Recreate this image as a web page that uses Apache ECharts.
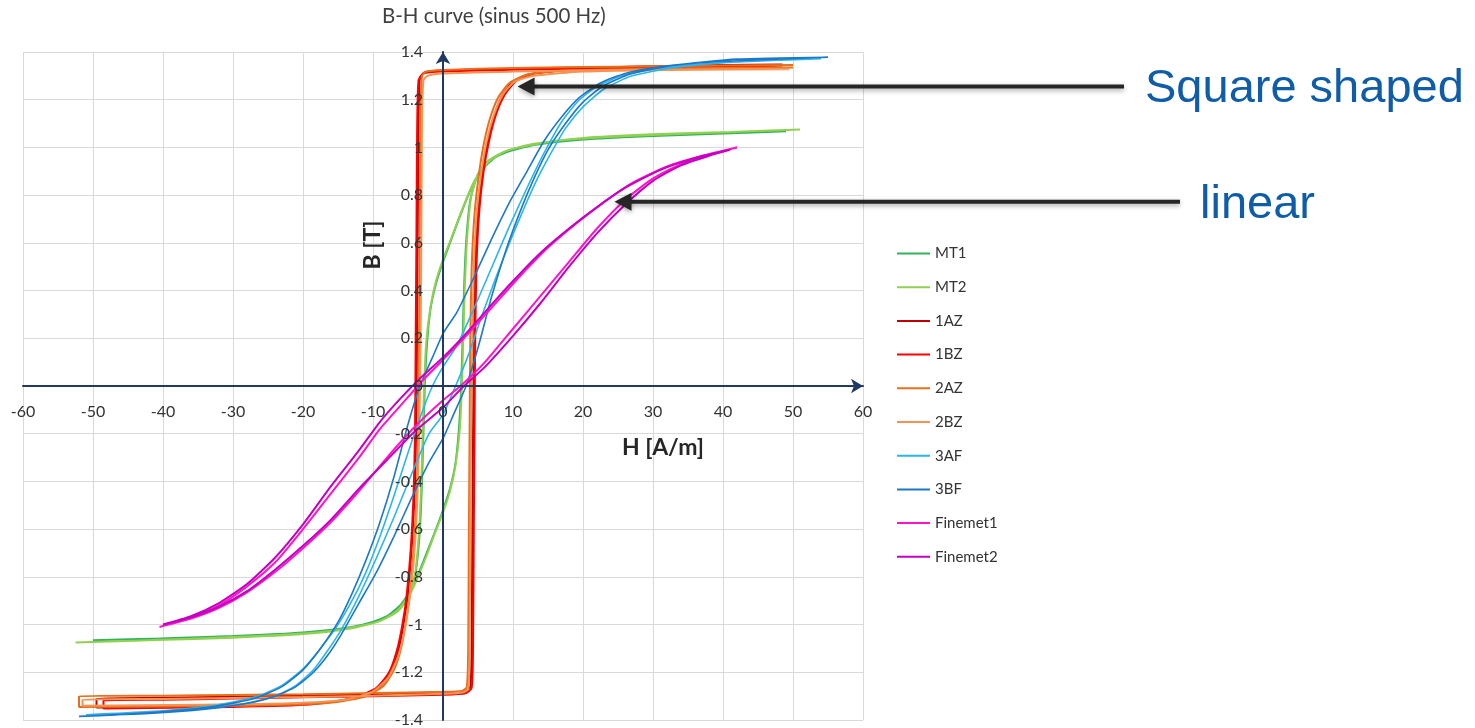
<!DOCTYPE html>
<html>
<head>
<meta charset="utf-8">
<script src="https://cdn.jsdelivr.net/npm/echarts@6/dist/echarts.min.js"></script>
<style>
html,body{margin:0;padding:0;background:#fff}
#chart{width:1475px;height:728px}
</style>
</head>
<body>
<div id="chart"></div>
<script>
// B-H loops, [H (A/m), B (T)]. "down" = from +sat to -sat, "up" = back.
const MT1_down = [[49,1.068],[42,1.062],[35,1.055],[28,1.047],[21,1.037],[15,1.022],[11,1.0],[8,0.97],[6,0.92],[4.2,0.84],[2.4,0.71],[1,0.6],[0,0.52],[-1,0.43],[-1.8,0.32],[-2.3,0.17],[-2.6,0.0],[-2.8,-0.2],[-3.0,-0.4],[-3.3,-0.6],[-3.9,-0.78],[-4.9,-0.88],[-6.4,-0.94],[-9,-0.98],[-13,-1.01],[-20,-1.033],[-30,-1.048],[-40,-1.058],[-50,-1.066]];
const MT1_up = [[-50,-1.066],[-42,-1.06],[-35,-1.053],[-28,-1.046],[-21,-1.036],[-15,-1.02],[-11,-0.998],[-8,-0.965],[-6,-0.915],[-4.2,-0.835],[-2.4,-0.705],[-1,-0.6],[0,-0.52],[1,-0.43],[1.8,-0.32],[2.3,-0.17],[2.6,0.0],[2.8,0.2],[3.0,0.4],[3.3,0.6],[3.9,0.78],[4.9,0.88],[6.4,0.94],[9,0.98],[13,1.01],[20,1.033],[30,1.048],[40,1.058],[49,1.068]];

const MT2_down = [[51,1.075],[44,1.068],[37,1.06],[30,1.052],[23,1.043],[17,1.03],[12.5,1.01],[9,0.985],[6.5,0.94],[4.5,0.86],[2.6,0.73],[1.2,0.62],[0,0.53],[-1,0.44],[-1.8,0.33],[-2.4,0.18],[-2.7,0.0],[-2.9,-0.2],[-3.1,-0.4],[-3.4,-0.6],[-4.0,-0.79],[-5.0,-0.89],[-6.5,-0.945],[-9,-0.985],[-13,-1.015],[-20,-1.04],[-30,-1.055],[-41,-1.065],[-52.5,-1.075]];
const MT2_up = [[-52.5,-1.075],[-44,-1.068],[-37,-1.06],[-30,-1.052],[-23,-1.043],[-17,-1.03],[-12.5,-1.01],[-9,-0.985],[-6.5,-0.94],[-4.5,-0.86],[-2.6,-0.73],[-1.2,-0.62],[0,-0.53],[1,-0.44],[1.8,-0.33],[2.4,-0.18],[2.7,0.0],[2.9,0.2],[3.1,0.4],[3.4,0.6],[4.0,0.79],[5.0,0.89],[6.5,0.945],[9,0.985],[13,1.015],[20,1.04],[30,1.055],[41,1.065],[51,1.075]];

const AZ1_down = [[48.5,1.348],[40,1.345],[30,1.34],[20,1.335],[10,1.33],[0,1.322],[-2.6,1.315],[-3.3,1.29],[-3.5,1.1],[-3.6,0.7],[-3.7,0.3],[-3.8,-0.1],[-4.0,-0.4],[-4.4,-0.64],[-5.0,-0.86],[-5.6,-0.99],[-6.3,-1.1],[-7.3,-1.19],[-9,-1.26],[-12,-1.305],[-18,-1.33],[-28,-1.34],[-40,-1.345],[-49.5,-1.348]];
const AZ1_up = [[-49.5,-1.31],[-40,-1.307],[-30,-1.303],[-20,-1.298],[-10,-1.293],[0,-1.288],[3,-1.282],[3.9,-1.26],[4.1,-1.05],[4.2,-0.6],[4.3,-0.2],[4.4,0.2],[4.6,0.5],[5.0,0.72],[5.6,0.88],[6.3,1.01],[7.2,1.12],[8.3,1.21],[9.8,1.27],[12,1.305],[18,1.325],[28,1.335],[40,1.34],[48.5,1.343]];

const BZ1_down = [[47.5,1.345],[40,1.342],[30,1.337],[20,1.332],[10,1.326],[0,1.318],[-2.8,1.31],[-3.5,1.28],[-3.7,1.05],[-3.8,0.6],[-3.9,0.2],[-4.0,-0.2],[-4.2,-0.45],[-4.6,-0.68],[-5.2,-0.88],[-5.8,-1.0],[-6.6,-1.11],[-7.7,-1.2],[-9.5,-1.265],[-13,-1.31],[-19,-1.335],[-30,-1.345],[-48.5,-1.352]];
const BZ1_up = [[-48.5,-1.318],[-40,-1.315],[-30,-1.31],[-20,-1.305],[-10,-1.3],[0,-1.294],[3.2,-1.288],[4.1,-1.265],[4.3,-1.05],[4.4,-0.6],[4.5,-0.2],[4.6,0.2],[4.8,0.52],[5.2,0.74],[5.8,0.9],[6.6,1.03],[7.6,1.14],[8.8,1.22],[10.5,1.28],[13,1.31],[19,1.328],[30,1.336],[47.5,1.342]];

const AZ2_down = [[50,1.345],[40,1.343],[30,1.34],[20,1.337],[10,1.333],[0,1.325],[-2.4,1.318],[-3.0,1.3],[-3.2,1.15],[-3.3,0.7],[-3.4,0.3],[-3.5,-0.1],[-3.7,-0.4],[-4.1,-0.64],[-4.7,-0.86],[-5.3,-0.99],[-6.0,-1.1],[-7.0,-1.19],[-8.6,-1.26],[-11.5,-1.305],[-17,-1.33],[-28,-1.34],[-40,-1.343],[-52,-1.345]];
const AZ2_up = [[-52,-1.3],[-40,-1.298],[-30,-1.295],[-20,-1.292],[-10,-1.287],[0,-1.282],[2.7,-1.278],[3.4,-1.262],[3.6,-1.1],[3.7,-0.6],[3.8,-0.2],[3.9,0.2],[4.1,0.5],[4.5,0.72],[5.1,0.88],[5.8,1.01],[6.7,1.12],[7.9,1.21],[9.5,1.27],[12,1.305],[18,1.322],[30,1.33],[40,1.333],[50,1.335]];

const BZ2_down = [[49.5,1.33],[40,1.328],[30,1.326],[20,1.323],[10,1.318],[0,1.31],[-2.2,1.3],[-2.8,1.28],[-3.0,1.1],[-3.1,0.6],[-3.2,0.2],[-3.4,-0.2],[-3.7,-0.5],[-4.2,-0.74],[-4.9,-0.92],[-5.6,-1.04],[-6.5,-1.14],[-7.8,-1.22],[-10,-1.28],[-14,-1.315],[-22,-1.33],[-35,-1.336],[-51.5,-1.34]];
const BZ2_up = [[-51.5,-1.315],[-40,-1.312],[-30,-1.308],[-20,-1.304],[-10,-1.298],[0,-1.29],[2.8,-1.285],[3.6,-1.27],[3.8,-1.1],[3.9,-0.6],[4.0,-0.2],[4.2,0.2],[4.4,0.5],[4.8,0.72],[5.4,0.88],[6.2,1.02],[7.2,1.13],[8.5,1.22],[10.2,1.275],[13,1.3],[20,1.318],[32,1.325],[49.5,1.328]];

const AF3_down = [[54,1.372],[45,1.362],[37,1.35],[30,1.33],[25.5,1.3],[22,1.255],[19.5,1.2],[17,1.11],[14.5,0.98],[12,0.83],[9.5,0.67],[7,0.5],[4.5,0.33],[2,0.17],[0,0.08],[-1.5,0.0],[-3,-0.11],[-5,-0.28],[-7,-0.46],[-9,-0.63],[-11,-0.78],[-13,-0.9],[-15,-1.0],[-17.5,-1.1],[-20,-1.185],[-23,-1.255],[-27,-1.305],[-33,-1.34],[-42,-1.365],[-51,-1.378]];
const AF3_up = [[-51,-1.378],[-42,-1.368],[-34,-1.352],[-28,-1.33],[-24,-1.3],[-21,-1.255],[-18.5,-1.19],[-16.5,-1.11],[-14.5,-1.02],[-12,-0.88],[-9.5,-0.72],[-7,-0.55],[-4.5,-0.37],[-2,-0.2],[0,-0.12],[1.8,0.0],[3.5,0.12],[5.5,0.29],[7.5,0.45],[9.5,0.6],[11.5,0.74],[13.5,0.87],[15.5,0.98],[17.5,1.08],[20,1.17],[23,1.245],[27,1.3],[33,1.335],[42,1.358],[54,1.372]];

const BF3_down = [[55,1.378],[46,1.368],[38,1.357],[31,1.338],[26,1.31],[22.5,1.27],[19.5,1.21],[17,1.13],[14.5,1.03],[12,0.9],[9.5,0.77],[7,0.62],[4.5,0.46],[2,0.31],[0,0.22],[-1.5,0.12],[-3.3,0.0],[-5,-0.16],[-7,-0.38],[-9,-0.57],[-11,-0.73],[-13,-0.87],[-15,-0.99],[-17.5,-1.1],[-20,-1.19],[-23,-1.26],[-27,-1.31],[-33,-1.345],[-42,-1.37],[-52,-1.385]];
const BF3_up = [[-52,-1.385],[-42,-1.373],[-34,-1.355],[-28,-1.33],[-24,-1.3],[-21,-1.26],[-18.5,-1.2],[-16.5,-1.13],[-14.5,-1.04],[-12,-0.91],[-9.5,-0.78],[-7,-0.63],[-4.5,-0.47],[-2,-0.32],[0,-0.22],[1.5,-0.12],[3.3,0.0],[5,0.16],[7,0.38],[9,0.57],[11,0.73],[13,0.87],[15,0.99],[17.5,1.1],[20,1.19],[23,1.26],[27,1.31],[33,1.345],[42,1.37],[55,1.378]];

const FM1_down = [[42,1.0],[37,0.965],[32,0.92],[27,0.85],[23,0.77],[19,0.68],[15,0.58],[11,0.46],[7,0.33],[3,0.2],[0,0.11],[-3,0.02],[-6,-0.08],[-9,-0.18],[-12,-0.3],[-16,-0.45],[-20,-0.6],[-24,-0.74],[-28,-0.84],[-32,-0.92],[-36,-0.97],[-40.5,-1.01]];
const FM1_up = [[-40.5,-1.01],[-36,-0.975],[-32,-0.93],[-28,-0.865],[-24,-0.78],[-20,-0.68],[-16,-0.57],[-12,-0.44],[-8,-0.3],[-4,-0.17],[0,-0.06],[2.5,0.0],[6,0.1],[10,0.24],[14,0.38],[18,0.52],[22,0.66],[26,0.78],[30,0.87],[34,0.93],[38,0.97],[42,1.0]];

const FM2_down = [[41,0.99],[36,0.955],[31,0.905],[26,0.83],[22,0.75],[18,0.66],[14,0.56],[10,0.44],[6,0.31],[3,0.21],[0,0.12],[-3,0.04],[-6,-0.05],[-9,-0.15],[-12,-0.27],[-16,-0.42],[-20,-0.58],[-24,-0.72],[-28,-0.83],[-32,-0.91],[-36,-0.965],[-40,-1.0]];
const FM2_up = [[-40,-1.0],[-36,-0.97],[-32,-0.925],[-28,-0.86],[-24,-0.77],[-20,-0.67],[-16,-0.56],[-12,-0.43],[-8,-0.31],[-4,-0.19],[0,-0.09],[3,0.0],[6,0.08],[10,0.21],[14,0.35],[18,0.5],[22,0.64],[26,0.76],[30,0.86],[34,0.925],[38,0.965],[41,0.99]];

const seriesNames = ['MT1','MT2','1AZ','1BZ','2AZ','2BZ','3AF','3BF','Finemet1','Finemet2'];
const seriesColors = ['#2fb35f','#92d050','#c00000','#ff0000','#e8701c','#f39452','#29b6ee','#1c78c8','#ff14c8','#c400c4'];
const seriesWidths = [2, 2, 2, 2, 2, 2, 1.6, 1.6, 2, 2];
const loops = [
  [MT1_down, MT1_up], [MT2_down, MT2_up],
  [AZ1_down, AZ1_up], [BZ1_down, BZ1_up],
  [AZ2_down, AZ2_up], [BZ2_down, BZ2_up],
  [AF3_down, AF3_up], [BF3_down, BF3_up],
  [FM1_down, FM1_up], [FM2_down, FM2_up]
];

const xTicks = {min:-60, max:60, step:10};
const yTicks = {min:-1.4, max:1.4, step:0.2};

const FONT = 'Lato, "Open Sans", sans-serif';
const ARIAL = '"Liberation Sans", Arial, sans-serif';
const AXIS = '#1f3864';

const chart = echarts.init(document.getElementById('chart'));

// axis 0: gridlines only, under the curves; axis 1: line + labels on top (Excel draws them over the data)
const gridAxis = {
  axisLine:{show:false}, axisTick:{show:false}, axisLabel:{show:false},
  splitLine:{lineStyle:{color:'#d9d9d9', width:1}}
};
const topAxis = {
  z:10,
  axisLine:{onZero:false, symbol:['none','arrow'], symbolSize:[11,12], lineStyle:{color:AXIS, width:2}},
  axisTick:{show:false}, splitLine:{show:false}
};

chart.setOption({
  animation:false,
  backgroundColor:'#fff',
  title:{text:'B-H curve (sinus 500 Hz)', left:382, top:6, padding:0,
    textStyle:{fontFamily:FONT, fontSize:20.5, fontWeight:'normal', color:'#404040'}},
  legend:{orient:'vertical', left:897, top:246, padding:0, icon:'rect', itemWidth:33, itemHeight:2, itemGap:18.7,
    textStyle:{fontFamily:FONT, fontSize:15, lineHeight:14, color:'#333'}, data:seriesNames},
  grid:{left:23, right:612, top:52, bottom:8, containLabel:false, outerBoundsMode:'none'},
  xAxis:[
    {type:'value', position:'bottom', min:xTicks.min, max:xTicks.max, interval:xTicks.step, ...gridAxis},
    {type:'value', position:'bottom', min:xTicks.min, max:xTicks.max, interval:xTicks.step, ...topAxis,
      axisLabel:{color:'#333', fontSize:16, fontFamily:FONT, margin:18}}
  ],
  yAxis:[
    {type:'value', position:'left', min:yTicks.min, max:yTicks.max, interval:yTicks.step, ...gridAxis},
    {type:'value', position:'left', min:yTicks.min, max:yTicks.max, interval:yTicks.step, ...topAxis,
      axisLabel:{color:'#333', fontSize:16, fontFamily:FONT, margin:20}}
  ],
  series:seriesNames.map((name, i) => ({
    name, type:'line', symbol:'none', smooth:0.2, xAxisIndex:0, yAxisIndex:0,
    data:[...loops[i][0], ...loops[i][1]],
    lineStyle:{width:seriesWidths[i], color:seriesColors[i]},
    itemStyle:{color:seriesColors[i]}
  }))
});

// move the visible axes (line + labels) onto the origin
const [x0, y0] = chart.convertToPixel({gridIndex:0}, [xTicks.min, yTicks.min]);
const [zx, zy] = chart.convertToPixel({gridIndex:0}, [0, 0]);

// annotation arrows: tips pinned to data coordinates
function arrow(tip, tailX){
  const [x, y] = chart.convertToPixel({gridIndex:0}, tip);
  const shadow = {shadowBlur:5, shadowColor:'rgba(0,0,0,0.35)', shadowOffsetY:2};
  return [
    {type:'line', shape:{x1:tailX, y1:y, x2:x + 12, y2:y}, style:{stroke:'#262626', lineWidth:4, ...shadow}, z:100},
    {type:'polygon', shape:{points:[[x, y], [x + 17, y - 9], [x + 17, y + 9]]}, style:{fill:'#262626', ...shadow}, z:100}
  ];
}

chart.setOption({
  xAxis:[{}, {offset:-(y0 - zy)}],
  yAxis:[{}, {offset:-(zx - x0)}],
  graphic:[
    {type:'text', x:373, y:245, rotation:Math.PI / 2, style:{text:'B [T]', fontFamily:FONT, fontSize:23, fontWeight:'bold', fill:'#262626', align:'center', verticalAlign:'middle'}},
    {type:'text', x:663, y:448, style:{text:'H [A/m]', fontFamily:FONT, fontSize:23, fontWeight:'bold', fill:'#262626', align:'center', verticalAlign:'middle'}},
    ...arrow([10.65, 1.255], 1124),
    ...arrow([24.5, 0.772], 1180),
    {type:'text', x:1145, y:89, style:{text:'Square shaped', fontFamily:ARIAL, fontSize:47, fill:'#0f5ca8', align:'left', verticalAlign:'middle'}},
    {type:'text', x:1200, y:205, style:{text:'linear', fontFamily:ARIAL, fontSize:47, fill:'#0f5ca8', align:'left', verticalAlign:'middle'}}
  ]
});
</script>
</body>
</html>
